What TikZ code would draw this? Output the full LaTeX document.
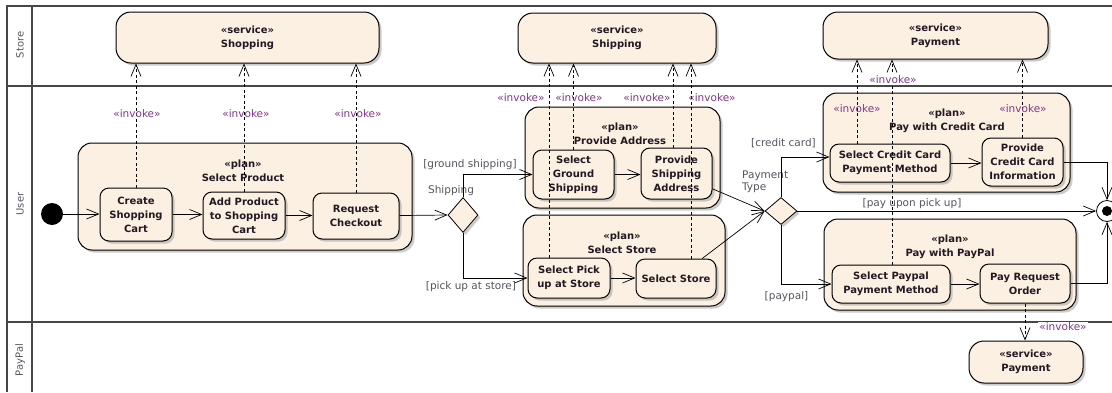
\documentclass[tikz,border=0pt]{standalone}
\usepackage{fontspec}
\setmainfont{DejaVu Sans}
\usepackage{tikz}
\usetikzlibrary{arrows.meta,positioning,shapes.geometric,shadows}

\definecolor{eaFill}{RGB}{251,240,226}
\definecolor{eaText}{RGB}{35,25,35}
\definecolor{eaInvoke}{RGB}{125,55,135}
\definecolor{eaGuard}{RGB}{85,85,95}
\definecolor{eaLane}{RGB}{70,70,70}

\begin{document}
\begin{tikzpicture}[x=1pt,y=-1pt,
  every node/.style={text=eaText},
  svc/.style={draw, rounded corners=15pt, fill=eaFill, line width=1pt,
    drop shadow={shadow xshift=2.5pt, shadow yshift=-2.5pt, fill=black!40},
    align=center, inner sep=1pt, font=\fontsize{10}{14}\selectfont\bfseries},
  plan/.style={draw, rounded corners=14pt, fill=eaFill, line width=1pt,
    drop shadow={shadow xshift=2.5pt, shadow yshift=-2.5pt, fill=black!40}, inner sep=0pt},
  ptitle/.style={align=center, inner sep=0pt, font=\fontsize{10}{14}\selectfont\bfseries},
  act/.style={draw, rounded corners=9pt, fill=eaFill, line width=1pt,
    drop shadow={shadow xshift=2.5pt, shadow yshift=-2.5pt, fill=black!40},
    align=center, inner sep=1pt, font=\fontsize{10}{14}\selectfont\bfseries},
  decision/.style={draw, diamond, fill=eaFill, inner sep=0pt, line width=0.8pt,
    drop shadow={shadow xshift=2.5pt, shadow yshift=-2.5pt, fill=black!40}},
  initnode/.style={circle, fill=black, minimum size=22pt, inner sep=0pt},
  finalnode/.style={circle, draw, fill=white, line width=0.8pt, minimum size=21pt, inner sep=0pt,
    path picture={\fill[black] (path picture bounding box.center) circle (5pt);}},
  flow/.style={-{Straight Barb[length=12pt,width=10pt]}, line width=0.7pt},
  inv/.style={flow, dash pattern=on 3pt off 2.5pt},
  guard/.style={text=eaGuard, inner sep=1pt, font=\fontsize{10.5}{12}\selectfont},
  invlbl/.style={text=eaInvoke, inner sep=1pt, font=\fontsize{10.5}{12}\selectfont},
  lane/.style={draw=eaLane, line width=1.6pt},
  lanelbl/.style={rotate=90, text=eaGuard, font=\fontsize{10}{12}\selectfont}
]
  \useasboundingbox (0,0) rectangle (1112,392);
  \fill[white] (0,0) rectangle (1112,392);

  % swimlanes
  \draw[lane] (7,392) -- (7,6) -- (1112,6);
  \draw[lane] (32,6) -- (32,392);
  \draw[lane] (7,86) -- (1112,86);
  \draw[lane] (7,322) -- (1112,322);
  \node[lanelbl] (lnStore) at (20,45) {Store};
  \node[lanelbl] (lnUser) at (20,204) {User};
  \node[lanelbl] (lnPayPal) at (20,360) {PayPal};

  % services
  \node[svc, minimum width=263pt, minimum height=51pt] (svcShop) at (247.5,37.5) {«service»\\Shopping};
  \node[svc, minimum width=198pt, minimum height=50pt] (svcShip) at (617,38) {«service»\\Shipping};
  \node[svc, minimum width=225pt, minimum height=47pt] (svcPay) at (935.5,35.5) {«service»\\Payment};
  \node[svc, minimum width=114pt, minimum height=42pt] (svcPayPal) at (1026,362) {«service»\\Payment};

  % plans
  \node[plan, minimum width=334pt, minimum height=107pt] (pProduct) at (245,196.5) {};
  \node[plan, minimum width=195pt, minimum height=101pt] (pAddress) at (622.5,157.5) {};
  \node[plan, minimum width=202pt, minimum height=91pt] (pStore) at (624,260.5) {};
  \node[plan, minimum width=247pt, minimum height=99pt] (pCredit) at (946.5,142.5) {};
  \node[plan, minimum width=252pt, minimum height=91pt] (pPaypal) at (950,264.5) {};
  \node[ptitle] (tProduct) at (243,170.5) {«plan»\\Select Product};
  \node[ptitle] (tAddress) at (620,134) {«plan»\\Provide Address};
  \node[ptitle] (tStore) at (622,243) {«plan»\\Select Store};
  \node[ptitle] (tCredit) at (947,121) {«plan»\\Pay with Credit Card};
  \node[ptitle] (tPaypal) at (950,247) {«plan»\\Pay with PayPal};

  % actions
  \node[act, minimum width=72pt, minimum height=53pt] (aCart) at (136,214.5) {Create\\Shopping\\Cart};
  \node[act, minimum width=82pt, minimum height=47pt] (aAdd) at (244,215.5) {Add Product\\to Shopping\\Cart};
  \node[act, minimum width=86pt, minimum height=46pt] (aCheckout) at (356,216) {Request\\Checkout};
  \node[act, minimum width=81pt, minimum height=49pt] (aGround) at (573.5,174.5) {Select\\Ground\\Shipping};
  \node[act, minimum width=71pt, minimum height=51pt] (aShipAddr) at (676.5,173.5) {Provide\\Shipping\\Address};
  \node[act, minimum width=82pt, minimum height=40pt] (aPickup) at (569,278) {Select Pick\\up at Store};
  \node[act, minimum width=80pt, minimum height=39pt] (aStore) at (676,278.5) {Select Store};
  \node[act, minimum width=120pt, minimum height=38pt] (aCardMethod) at (890,163) {Select Credit Card\\Payment Method};
  \node[act, minimum width=81pt, minimum height=48pt] (aCardInfo) at (1022.5,162) {Provide\\Credit Card\\Information};
  \node[act, minimum width=118pt, minimum height=38pt] (aPaypalMethod) at (891,284) {Select Paypal\\Payment Method};
  \node[act, minimum width=90pt, minimum height=39pt] (aPayOrder) at (1025,283.5) {Pay Request\\Order};

  % control nodes
  \node[initnode] (init) at (52,214) {};
  \node[decision, minimum width=30pt, minimum height=35pt] (dShip) at (463,215) {};
  \node[decision, minimum width=32pt, minimum height=27pt] (dPay) at (781,211) {};
  \node[finalnode] (fin) at (1107,211) {};
  \node[guard] (lShip) at (451,191) {Shipping};
  \node[guard, align=left, anchor=west, inner sep=0pt] (lPayType) at (742,181.5) {Payment\\Type};

  % control flows
  \draw[flow] (init) -- (init -| aCart.west);
  \draw[flow] (aCart) -- (aCart -| aAdd.west);
  \draw[flow] (aAdd) -- (aAdd -| aCheckout.west);
  \draw[flow] (aCheckout) -- (dShip.west);
  \draw[flow] (dShip.north) |- (aGround.west);
  \draw[flow] (dShip.south) |- (aPickup.west);
  \draw[flow] (aGround) -- (aGround -| aShipAddr.west);
  \draw[flow] (aPickup) -- (aPickup -| aStore.west);
  \draw[flow] (aShipAddr) -- (dPay.west);
  \draw[flow] (aStore) -- (dPay.west);
  \draw[flow] (dPay.north) |- ([yshift=6pt]aCardMethod.west);
  \draw[flow] (dPay) -- (fin);
  \draw[flow] (dPay.south) |- (aPaypalMethod.west);
  \draw[flow] (aCardMethod) -- (aCardMethod -| aCardInfo.west);
  \draw[flow] (aPaypalMethod) -- (aPaypalMethod -| aPayOrder.west);
  \draw[flow] (aCardInfo) -| (fin);
  \draw[flow] (aPayOrder) -| (fin);

  % guards
  \node[guard] (gGround) at (470,165) {[ground shipping]};
  \node[guard] (gPickup) at (471,287) {[pick up at store]};
  \node[guard] (gCredit) at (783.5,143) {[credit card]};
  \node[guard] (gPickPay) at (912,204) {[pay upon pick up]};
  \node[guard] (gPaypal) at (786.5,297) {[paypal]};

  % invoke dependencies
  \coordinate (iPickup) at ([xshift=-20pt]aPickup.north);
  \coordinate (iShipAddr) at ([xshift=-3.5pt]aShipAddr.north);
  \coordinate (iStore) at ([xshift=15pt]aStore.north);
  \coordinate (iCardMethod) at ([xshift=-33pt]aCardMethod.north);
  \coordinate (iPaypalMethod) at ([xshift=1pt]aPaypalMethod.north);
  \draw[inv] (aCart) -- (aCart |- svcShop.south);
  \draw[inv] (aAdd) -- (aAdd |- svcShop.south);
  \draw[inv] (aCheckout) -- (aCheckout |- svcShop.south);
  \draw[inv] (aGround) -- (aGround |- svcShip.south);
  \draw[inv] (iPickup) -- (iPickup |- svcShip.south);
  \draw[inv] (iShipAddr) -- (iShipAddr |- svcShip.south);
  \draw[inv] (iStore) -- (iStore |- svcShip.south);
  \draw[inv] (iCardMethod) -- (iCardMethod |- svcPay.south);
  \draw[inv] (iPaypalMethod) -- (iPaypalMethod |- svcPay.south);
  \draw[inv] (aCardInfo) -- (aCardInfo |- svcPay.south);
  \draw[inv] (aPayOrder) -- (aPayOrder |- svcPayPal.north);

  \node[invlbl] (vCart) at (137,114) {«invoke»};
  \node[invlbl] (vAdd) at (246,114) {«invoke»};
  \node[invlbl] (vCheckout) at (358,114) {«invoke»};
  \node[invlbl] (vPickup) at (521,98) {«invoke»};
  \node[invlbl] (vGround) at (579,98) {«invoke»};
  \node[invlbl] (vShipAddr) at (647,98) {«invoke»};
  \node[invlbl] (vStore) at (712,98) {«invoke»};
  \node[invlbl, fill=white] (vPaypalMethod) at (893,80) {«invoke»};
  \node[invlbl] (vCardMethod) at (857,109) {«invoke»};
  \node[invlbl] (vCardInfo) at (1023,109) {«invoke»};
  \node[invlbl, fill=white] (vPayOrder) at (1063,327) {«invoke»};
\end{tikzpicture}
\end{document}
